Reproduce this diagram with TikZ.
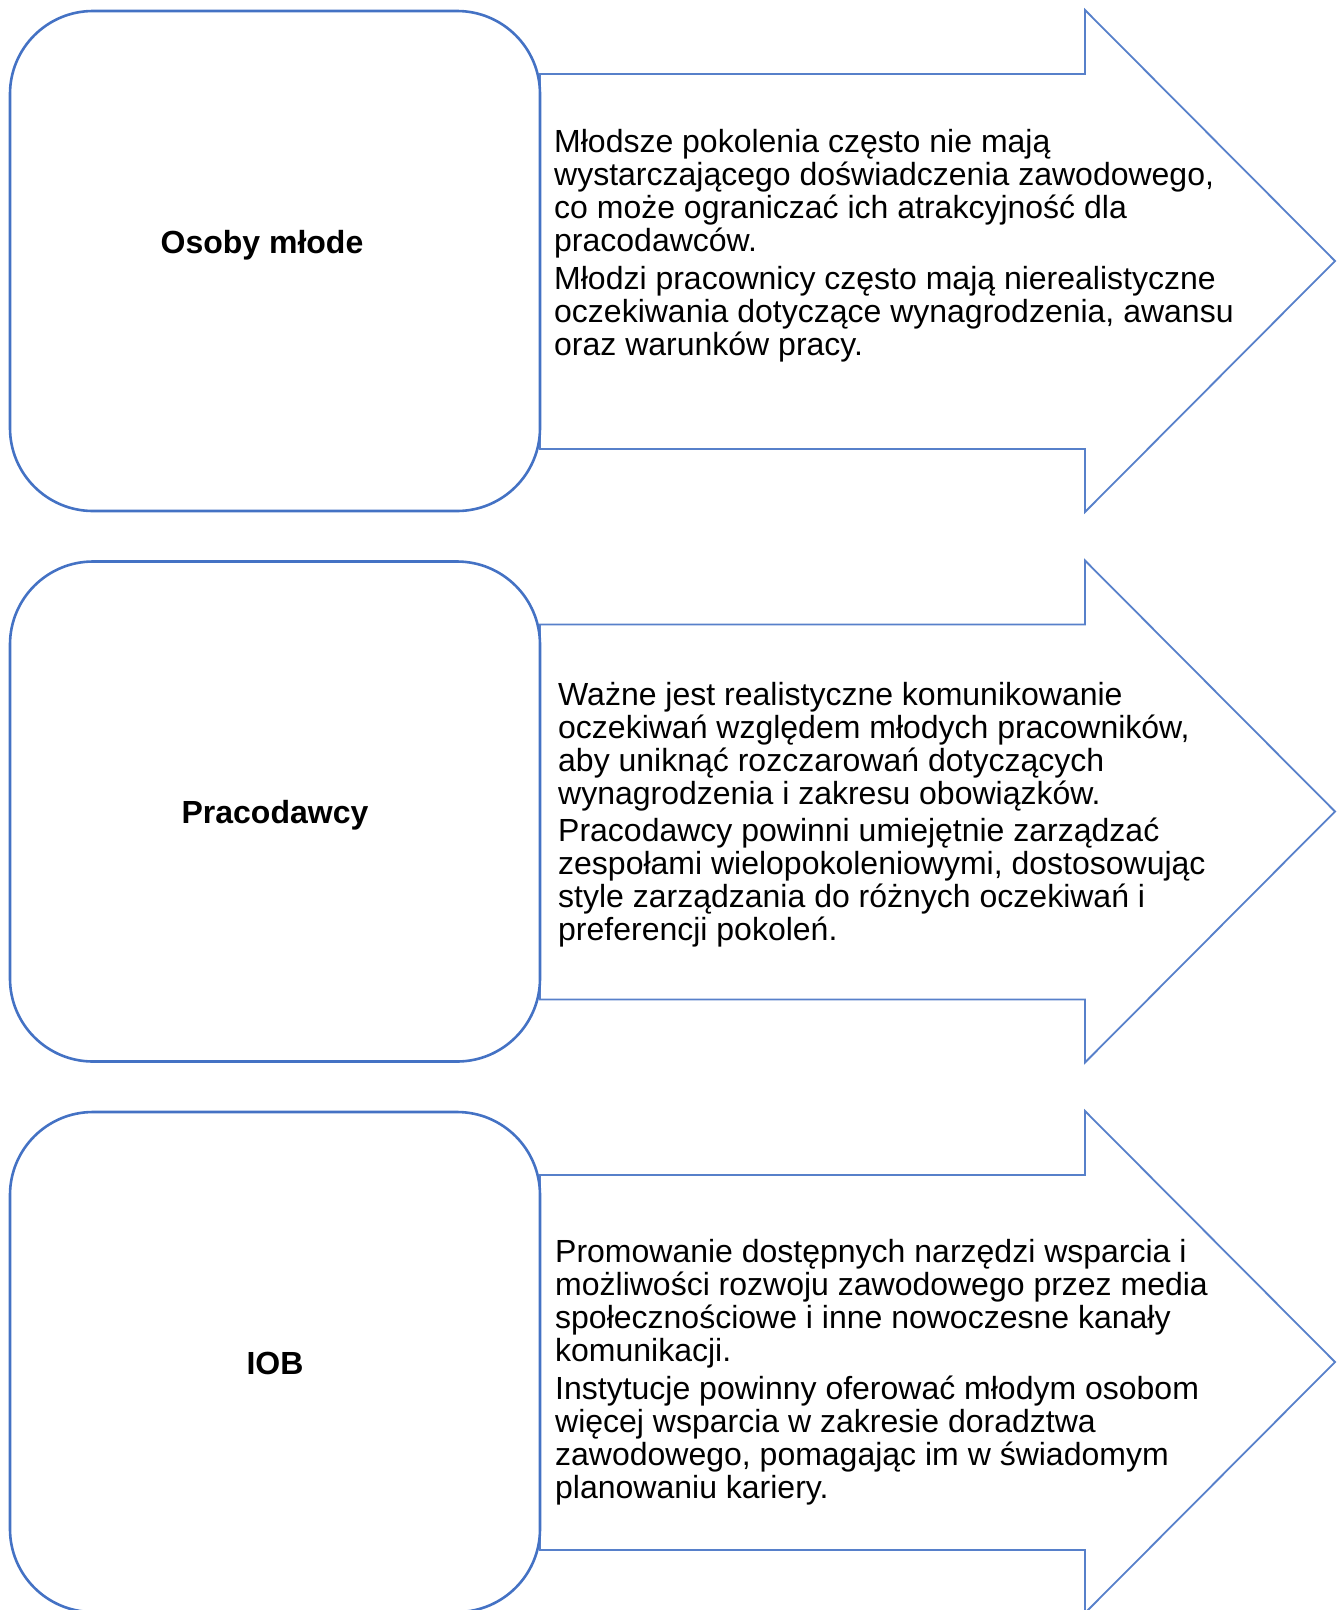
\documentclass[tikz,border=0pt]{standalone}
\usepackage{fontspec}
\setmainfont{Liberation Sans}
\usetikzlibrary{positioning}
\definecolor{wordblue}{HTML}{4472C4}
\tikzstyle{grp}=[draw=wordblue, line width=2.6pt, rounded corners=83pt,
                 minimum width=530pt, minimum height=500pt, inner sep=0pt]
\tikzstyle{lbl}=[font=\fontsize{32}{33}\selectfont\bfseries, inner sep=0pt]
\tikzstyle{txt}=[anchor=west, align=left, inner sep=0pt,
                 font=\fontsize{32}{33}\selectfont]
\tikzstyle{arr}=[draw=wordblue!90, line width=1.8pt, line join=miter]

\begin{document}
\begin{tikzpicture}[x=1pt, y=-1pt]
    \useasboundingbox (0,0) rectangle (1344,1610);
    % arrows behind the boxes
    \foreach \t/\n in {11/a1, 561.5/a2, 1112/a3}
      \draw[arr] (540,\t+63) -- (1085,\t+63) -- (1085,\t-1) -- (1335,\t+250)
                 -- (1085,\t+501) -- (1085,\t+438) -- (540,\t+438) -- cycle;
    \node[grp] (young) at (275,261)    {};
    \node[grp] (empl)  at (275,811.5)  {};
    \node[grp] (iob)   at (275,1362)   {};
    \node[lbl] (lyoung) at (262,245)   {Osoby młode};
    \node[lbl] (lempl)  at (275,815)   {Pracodawcy};
    \node[lbl] (liob)   at (275,1363)  {IOB};
    \node[txt] (tyoung) at (554,246) {Młodsze pokolenia często nie mają\\
      wystarczającego doświadczenia zawodowego,\\
      co może ograniczać ich atrakcyjność dla\\
      pracodawców.\\[5pt]
      Młodzi pracownicy często mają nierealistyczne\\
      oczekiwania dotyczące wynagrodzenia, awansu\\
      oraz warunków pracy.};
    \node[txt] (templ) at (558,814.5) {Ważne jest realistyczne komunikowanie\\
      oczekiwań względem młodych pracowników,\\
      aby uniknąć rozczarowań dotyczących\\
      wynagrodzenia i zakresu obowiązków.\\[4pt]
      Pracodawcy powinni umiejętnie zarządzać\\
      zespołami wielopokoleniowymi, dostosowując\\
      style zarządzania do różnych oczekiwań i\\
      preferencji pokoleń.};
    \node[txt] (tiob) at (555,1372) {Promowanie dostępnych narzędzi wsparcia i\\
      możliwości rozwoju zawodowego przez media\\
      społecznościowe i inne nowoczesne kanały\\
      komunikacji.\\[5pt]
      Instytucje powinny oferować młodym osobom\\
      więcej wsparcia w zakresie doradztwa\\
      zawodowego, pomagając im w świadomym\\
      planowaniu kariery.};
  \end{tikzpicture}
\end{document}
